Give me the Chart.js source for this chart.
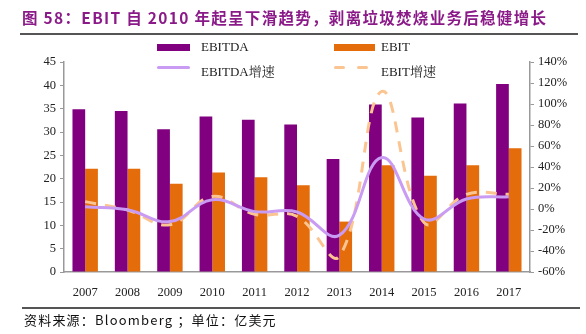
<!DOCTYPE html>
<html><head><meta charset="utf-8">
<script src="https://cdn.jsdelivr.net/npm/chart.js@4.4.1/dist/chart.umd.min.js"></script>
<style>
html,body{margin:0;padding:0;background:#fff;}
#wrap{position:relative;width:586px;height:334px;overflow:hidden;}
#c{position:absolute;left:0;top:0;}
.title{position:absolute;left:22px;top:6px;font-family:"Noto Sans CJK SC","Liberation Sans",sans-serif;font-weight:bold;font-size:15.5px;color:#8B1A89;white-space:nowrap;letter-spacing:1.3px;}
.hr{position:absolute;height:1.5px;background:#555;}
.src{position:absolute;left:24px;top:310px;font-family:"Noto Sans CJK SC","Liberation Sans",sans-serif;font-size:13px;color:#111;white-space:nowrap;letter-spacing:1.2px;}
.lg{position:absolute;font-family:"Liberation Serif","Noto Serif CJK SC","Noto Sans CJK SC",serif;font-size:13px;color:#222;white-space:nowrap;}
.sw{position:absolute;}
</style></head><body>
<div id="wrap">
<canvas id="c" width="586" height="334"></canvas>
<div class="title">图 58：EBIT 自 2010 年起呈下滑趋势，剥离垃圾焚烧业务后稳健增长</div>
<div class="hr" style="left:20px;top:33px;width:558px;"></div>
<div class="sw" style="left:157px;top:44px;width:33px;height:7px;background:#800080;"></div>
<div class="lg" style="left:201px;top:39px;">EBITDA</div>
<div class="sw" style="left:334px;top:44px;width:41px;height:7px;background:#E46C0A;"></div>
<div class="lg" style="left:381px;top:39px;">EBIT</div>
<div class="sw" style="left:157px;top:66px;width:33px;height:3px;background:#C99BF2;border-radius:2px;"></div>
<div class="lg" style="left:201px;top:61px;">EBITDA增速</div>
<div class="sw" style="left:334px;top:66px;width:11px;height:3px;background:#FBC592;border-radius:2px;"></div>
<div class="sw" style="left:357px;top:66px;width:11px;height:3px;background:#FBC592;border-radius:2px;"></div>
<div class="lg" style="left:381px;top:61px;">EBIT增速</div>
<div class="hr" style="left:22px;top:307px;width:558px;"></div>
<div class="src">资料来源：Bloomberg ；单位：亿美元</div>
</div>
<script>
const years = ['2007','2008','2009','2010','2011','2012','2013','2014','2015','2016','2017'];
const ebitda = [34.9,34.5,30.6,33.3,32.6,31.6,24.2,35.9,33.1,36.1,40.3];
const ebit = [22.1,22.1,18.9,21.3,20.3,18.6,10.8,22.9,20.6,22.9,26.5];
const ebitdaGrowth = [2.2,-0.8,-12,8.8,-2.5,-2.8,-25,49,-9.5,9.5,11.7];
const ebitGrowth = [7,-1,-15,12,-5,-7,-45,112,-13,14,14];
const leftTicks = [0,5,10,15,20,25,30,35,40,45];

const tickFont = {family:'"Liberation Serif", serif', size:12.5};
new Chart(document.getElementById('c'), {
  type:'bar',
  data:{
    labels: years,
    datasets:[
      {type:'line', label:'EBITDA增速', data: ebitdaGrowth, yAxisID:'y1', borderColor:'#C99BF2', borderWidth:3, pointRadius:0, tension:0.4, order:0, fill:false},
      {type:'line', label:'EBIT增速', data: ebitGrowth, yAxisID:'y1', borderColor:'#FBC592', borderWidth:3, borderDash:[11,9], pointRadius:0, tension:0.4, order:0, fill:false},
      {label:'EBITDA', data: ebitda, yAxisID:'y', backgroundColor:'#800080', order:1, categoryPercentage:0.6, barPercentage:1.0},
      {label:'EBIT', data: ebit, yAxisID:'y', backgroundColor:'#E46C0A', order:1, categoryPercentage:0.6, barPercentage:1.0}
    ]
  },
  options:{
    responsive:false, animation:false,
    layout:{padding:{top:62,left:0,right:0,bottom:0}},
    plugins:{legend:{display:false}, tooltip:{enabled:false}},
    scales:{
      x:{
        grid:{display:false, drawTicks:false},
        border:{color:'#999', width:1.5},
        ticks:{font:tickFont, color:'#222', padding:13},
        afterFit(s){ s.height = 62; }
      },
      y:{
        position:'left', min:0, max:45,
        afterBuildTicks(s){ s.ticks = leftTicks.map(v=>({value:v})); },
        grid:{drawOnChartArea:false, drawTicks:true, tickLength:4, color:'#999'},
        border:{color:'#999', width:1.5},
        ticks:{font:tickFont, color:'#222', padding:4},
        afterFit(s){ s.width = 64; }
      },
      y1:{
        position:'right', min:-60, max:140,
        ticks:{stepSize:20, font:tickFont, color:'#222', padding:4, callback:v=>v+'%'},
        grid:{drawOnChartArea:false, drawTicks:true, tickLength:4, color:'#999'},
        border:{color:'#999', width:1.5},
        afterFit(s){ s.width = 56; }
      }
    }
  }
});
</script>
</body></html>
